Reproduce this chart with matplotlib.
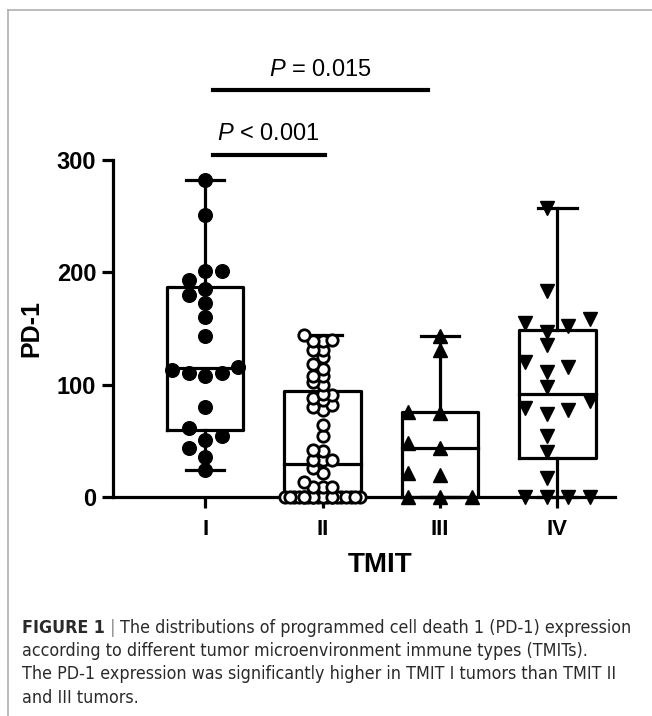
import numpy as np
import matplotlib
matplotlib.use("Agg")
import matplotlib.pyplot as plt
from matplotlib.lines import Line2D
from matplotlib import font_manager as fm

plt.rcParams['font.family'] = ['Liberation Sans', 'DejaVu Sans']
plt.rcParams['mathtext.fontset'] = 'custom'
plt.rcParams['mathtext.it'] = 'Liberation Sans:italic'
plt.rcParams['mathtext.rm'] = 'Liberation Sans'

# data
cats = ['I', 'II', 'III', 'IV']
tmit_I = [282, 251, 201, 201, 193, 185, 180, 173, 160, 143, 113, 108, 110, 116,
          80, 61, 54, 51, 44, 36, 24, 110]
tmit_II = [0] * 21 + [9, 9, 9, 13, 21, 26, 33, 33, 33, 41, 42, 54, 64, 77, 80, 82,
                      86, 88, 91, 92, 100, 102, 108, 108, 114, 118, 125, 131, 131,
                      139, 139, 140, 144]
tmit_III = [0, 0, 0, 20, 21, 44, 48, 75, 76, 131, 143]
tmit_IV = [257, 183, 158, 155, 152, 147, 135, 120, 116, 111, 98, 85, 79, 77, 74,
           54, 40, 17, 0, 0, 0, 0]
groups = [tmit_I, tmit_II, tmit_III, tmit_IV]

pvals = ['$\\it{P}$ < 0.001', '$\\it{P}$ = 0.015']
p_spans = [(1.07, 2.02), (1.07, 2.90)]
p_heights = [304.5, 362]

markers = ['o', 'o', '^', 'v']
msizes = [9.8, 8.2, 10.5, 10.5]
faces = ['black', 'white', 'black', 'black']
# vertical gap (data units), column step (x units), columns per side, grid shift
gaps = [12.0, 6.0, 12.0, 12.0]
steps = [0.14, 0.08, 0.27, 0.185]
maxk = [2, 4, 1, 2]
shifts = [0.0, 0.0, 0.0, 0.5]


def swarm(vals, gap, step, max_k, shift):
    vals = np.asarray(vals, float)
    if shift:
        cands = []
        for k in range(max_k):
            cands += [-(k + shift), k + shift]
    else:
        cands = [0]
        for k in range(1, max_k + 1):
            cands += [-k, k]
    half = sorted(set(c + 0.5 for c in cands if c + 0.5 <= max(cands)),
                  key=abs)
    placed = []
    offs = np.zeros(len(vals))
    for i in np.argsort(vals, kind='stable'):
        v = vals[i]
        chosen = None
        for c in cands:
            if all(abs(v - pv) >= gap for pc, pv in placed if abs(pc - c) < 1):
                chosen = c
                break
        if chosen is None:
            chosen = min(cands + half,
                         key=lambda c: sum(1 for pc, pv in placed
                                           if pc == c and abs(v - pv) < gap))
        placed.append((chosen, v))
        offs[i] = chosen * step
    return offs


fig = plt.figure(figsize=(6.52, 7.16), dpi=100)
ax = fig.add_axes([0.1733, 0.3059, 0.770, 0.4707])

lw = 2.3
box_w = 0.65
cap_w = 0.33
for i, vals in enumerate(groups):
    x = i + 1
    v = np.asarray(vals, float)
    q1, med, q3 = np.percentile(v, [25, 50, 75], method='weibull')
    lo, hi = v.min(), v.max()
    ax.plot([x - box_w / 2, x + box_w / 2, x + box_w / 2, x - box_w / 2, x - box_w / 2],
            [q1, q1, q3, q3, q1], color='black', lw=lw, zorder=2, clip_on=False)
    ax.plot([x - box_w / 2, x + box_w / 2], [med, med], color='black', lw=lw, zorder=2)
    ax.plot([x, x], [q3, hi], color='black', lw=lw, zorder=2)
    ax.plot([x, x], [lo, q1], color='black', lw=lw, zorder=2, clip_on=False)
    ax.plot([x - cap_w / 2, x + cap_w / 2], [hi, hi], color='black', lw=lw, zorder=2)
    ax.plot([x - cap_w / 2, x + cap_w / 2], [lo, lo], color='black', lw=lw, zorder=2,
            clip_on=False)
    offs = swarm(v, gaps[i], steps[i], maxk[i], shifts[i])
    ax.plot(x + offs, v, linestyle='none', marker=markers[i], ms=msizes[i],
            mfc=faces[i], mec='black', mew=2.0 if i == 1 else 1.0, zorder=3,
            clip_on=False)

# significance bars
for (x0, x1), h, txt, k in zip(p_spans, p_heights, pvals, range(2)):
    ax.plot([x0, x1], [h, h], color='black', lw=3, clip_on=False)
    if k == 0:
        ax.text(x0 + 0.035, h + 13, txt, ha='left', va='baseline', fontsize=17,
                clip_on=False)
    else:
        ax.text(1.98, h + 13, txt, ha='center', va='baseline', fontsize=17,
                clip_on=False)

ax.set_xlim(0.216, 4.49)
ax.set_ylim(0, 300)
ax.set_xticks(range(1, 5))
ax.set_xticklabels(cats, fontsize=16, fontweight='bold')
ax.set_yticks([0, 100, 200, 300])
ax.set_yticklabels(['0', '100', '200', '300'], fontsize=17, fontweight='bold')
ax.tick_params(length=8, width=lw, pad=4)
ax.tick_params(axis='x', pad=8)
for s in ['top', 'right']:
    ax.spines[s].set_visible(False)
for s in ['left', 'bottom']:
    ax.spines[s].set_linewidth(lw)
ax.set_ylabel('PD-1', fontsize=18, fontweight='bold', labelpad=10)
fig.text(380 / 652, 1 - 565 / 716, 'TMIT', ha='center', va='center', fontsize=20,
         fontweight='bold')

# frame lines of the figure panel
fig.add_artist(Line2D([8 / 652, 1], [1 - 10 / 716, 1 - 10 / 716], color='#b0b0b0', lw=1.2))
fig.add_artist(Line2D([8 / 652, 8 / 652], [0, 1 - 10 / 716], color='#b0b0b0', lw=1.2))

# caption (narrow face if there is one)
narrow = [f.name for f in fm.fontManager.ttflist
          if f.stretch in ('condensed', 'semi-condensed')
          and f.name in ('Liberation Sans Narrow', 'DejaVu Sans', 'DejaVu Sans Condensed')]
if narrow:
    cap_font = [narrow[0], 'Liberation Sans']
    cap_size = 12.8
    cap_stretch = 'condensed'
else:
    cap_font = ['Liberation Sans', 'DejaVu Sans']
    cap_size = 11.6
    cap_stretch = 'normal'
cap_col = '#2a2a2a'
cap_lines = ['according to different tumor microenvironment immune types (TMITs).',
             'The PD-1 expression was significantly higher in TMIT I tumors than TMIT II',
             'and III tumors.']
t1 = fig.text(22 / 652, 1 - 637 / 716, 'FIGURE 1', family=cap_font, fontweight='bold',
              fontsize=cap_size, fontstretch=cap_stretch, color=cap_col, va='bottom')
t2 = ax.annotate(' | ', xy=(1, 0), xycoords=t1, va='bottom', ha='left',
                 family=cap_font, fontsize=cap_size, fontstretch=cap_stretch,
                 color='#8a8a8a', annotation_clip=False)
ax.annotate('The distributions of programmed cell death 1 (PD-1) expression',
            xy=(1, 0), xycoords=t2, va='bottom', ha='left', family=cap_font,
            fontsize=cap_size, fontstretch=cap_stretch, color=cap_col,
            annotation_clip=False)
for k, line in enumerate(cap_lines):
    fig.text(22 / 652, 1 - (660 + 23.3 * k) / 716, line, family=cap_font,
             fontsize=cap_size, fontstretch=cap_stretch, color=cap_col, va='bottom')

fig.savefig('out.png', dpi=100)
